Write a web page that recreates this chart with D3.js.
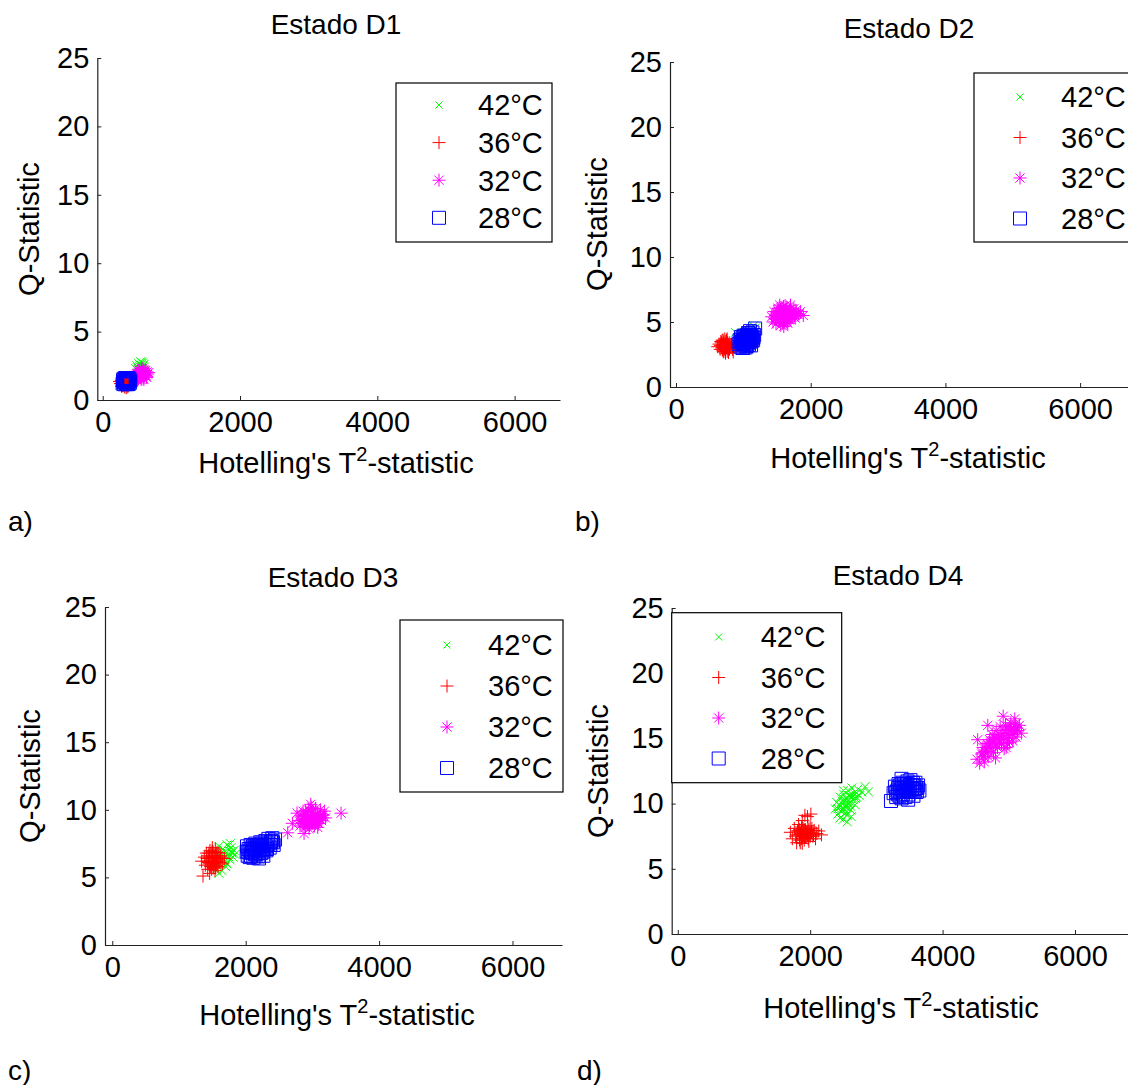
<!DOCTYPE html>
<html>
<head>
<meta charset="utf-8">
<script src="https://cdn.jsdelivr.net/npm/d3@7"></script>
<style>
  body { margin: 0; background: #fff; }
  text { font-family: "Liberation Sans", Arial, Helvetica, sans-serif; fill: #000; }
</style>
</head>
<body>
<svg id="fig" width="1128" height="1085"></svg>
<script>
// ---- series and axis definitions ----
const seriesNames = ["42°C", "36°C", "32°C", "28°C"];
const seriesColors = ["#00ff00", "#ff0000", "#ff00ff", "#0000ff"];
const seriesMarkers = ["x", "plus", "star", "square"];
const xTickValues = [0, 2000, 4000, 6000];
const yTickValues = [0, 5, 10, 15, 20, 25];
const panelTitles = ["Estado D1", "Estado D2", "Estado D3", "Estado D4"];
const panelLetters = ["a)", "b)", "c)", "d)"];

// ---- [T², Q] samples per state and temperature ----
const d1_42 = [[480,2.3],[495,2.5],[510,2.35],[525,2.65],[540,2.45],[550,2.8],[560,2.55],[570,2.35],[580,2.7],[590,2.5],[605,2.4],[520,2.2],[545,2.15],[565,2.75],[600,2.6]];
const d1_36 = [[245,1.35],[260,1.2],[270,1.45],[285,1.05],[295,1.3],[305,1.6],[315,0.95],[325,1.25],[335,1.4],[340,0.9],[350,1.15],[360,1.5],[370,1.0],[380,1.3],[395,1.45],[410,1.2],[300,1.1],[330,1.65],[355,0.95],[275,1.0]];
const d1_32 = [[460,1.55],[470,1.8],[485,1.5],[495,1.95],[505,1.7],[515,2.1],[520,1.55],[530,1.85],[540,2.15],[548,1.65],[555,1.95],[565,2.25],[572,1.75],[580,2.05],[590,1.6],[598,2.2],[605,1.85],[615,2.0],[625,2.15],[635,1.75],[645,2.05],[655,1.9],[670,2.0],[510,1.45],[560,1.5],[600,1.5],[575,2.3],[530,2.2],[640,1.65],[495,1.6]];
const d1_28 = [[290,1.2],[295,1.45],[300,1.3],[305,1.55],[312,1.15],[318,1.4],[325,1.6],[330,1.25],[335,1.45],[342,1.18],[348,1.35],[352,1.58],[358,1.22],[365,1.5],[370,1.3],[378,1.17],[383,1.42],[390,1.55],[395,1.25],[402,1.4],[310,1.35],[340,1.55],[375,1.6],[360,1.15]];

const d2_42 = [[880,4.2],[920,3.8],[960,4.0],[1000,3.6],[1030,4.1],[1060,3.8],[1090,4.3],[1120,4.0],[1150,4.7],[1180,4.55],[990,3.3],[1070,3.4]];
const d2_36 = [[620,3.1],[640,3.3],[655,2.9],[665,3.5],[680,3.0],[690,3.25],[700,2.75],[710,3.45],[720,3.1],[730,2.85],[740,3.35],[750,3.6],[760,2.95],[770,3.2],[780,2.65],[790,3.4],[805,3.05],[820,3.3],[840,2.9],[860,3.15],[880,3.4],[700,3.6],[735,2.6],[760,3.7],[690,2.85],[850,2.7],
  [660,3.2],[675,3.4],[690,3.05],[705,3.3],[720,2.95],[735,3.25],[750,3.05],[765,3.4],[780,3.1],[795,2.9],[710,2.7],[740,3.5],[685,3.6],[760,2.75],[725,3.7]];
const d2_32 = [[1420,5.4],[1440,5.0],[1455,5.8],[1470,5.25],[1485,4.85],[1500,5.6],[1515,6.05],[1525,5.15],[1540,5.5],[1555,4.75],[1565,5.9],[1580,5.3],[1595,6.2],[1605,5.0],[1620,5.7],[1635,5.35],[1645,6.1],[1660,4.9],[1675,5.55],[1690,5.95],[1705,5.2],[1720,5.75],[1735,5.45],[1750,6.0],[1770,5.3],[1790,5.65],[1890,5.5],[1600,4.65],[1540,6.3],[1700,6.3],[1480,5.5],[1650,5.0],
  [1480,5.3],[1495,5.7],[1510,5.35],[1525,5.8],[1540,5.2],[1555,5.55],[1570,5.85],[1585,5.45],[1600,5.6],[1615,5.25],[1630,5.9],[1645,5.5],[1660,5.75],[1675,5.2],[1690,5.45],[1705,5.8],[1720,5.4],[1740,5.65],[1760,5.5],[1780,5.9],[1820,5.6],[1850,5.8],[1560,6.1],[1620,6.25],[1580,4.9]];
const d2_28 = [[930,3.3],[945,3.6],[955,3.1],[965,3.85],[975,3.4],[985,3.0],[995,3.65],[1005,3.95],[1015,3.3],[1025,3.7],[1035,3.05],[1045,3.5],[1055,4.0],[1065,3.35],[1075,3.75],[1085,4.1],[1095,3.5],[1105,3.9],[1115,3.2],[1125,3.7],[1135,4.2],[1145,3.6],[1160,4.0],[1175,4.5],[1000,3.0],[1050,3.15],[1100,4.3],
  [980,3.5],[990,3.8],[1000,3.4],[1010,3.6],[1020,3.9],[1030,3.45],[1040,3.75],[1050,3.55],[1060,3.9],[1070,3.6],[1080,3.45],[1090,3.8],[1100,3.65],[1110,3.95],[1120,3.5],[1040,3.25],[1070,4.15],[960,3.45],[1010,3.2],[1130,3.85],[1150,3.8],[1085,3.25]];

const d3_42 = [[1520,6.2],[1545,6.9],[1560,5.6],[1580,6.5],[1600,7.3],[1615,6.0],[1630,6.8],[1645,5.5],[1660,7.1],[1675,6.4],[1690,6.9],[1705,6.1],[1720,7.4],[1735,6.7],[1750,7.0],[1765,6.3],[1780,7.2],[1795,6.8],[1810,6.5],[1825,7.0],[1600,5.3],[1700,5.8],
  [1750,6.5],[1790,6.9],[1840,6.7],[1770,7.5],[1720,6.0]];
const d3_36 = [[1340,6.2],[1360,5.1],[1380,6.5],[1395,5.9],[1410,6.8],[1420,6.2],[1430,5.6],[1445,6.6],[1455,6.0],[1465,7.0],[1475,5.8],[1485,6.4],[1495,6.9],[1505,6.1],[1515,5.7],[1525,6.5],[1535,6.2],[1545,7.1],[1555,5.9],[1565,6.6],[1575,6.3],[1585,5.8],[1600,6.8],[1615,6.1],[1630,6.5],[1650,6.0],[1680,6.4],[1460,5.3],[1540,5.5],[1500,7.2],
  [1420,6.4],[1440,6.1],[1460,6.5],[1480,6.2],[1500,6.6],[1520,6.0],[1540,6.4],[1560,6.1],[1580,6.5],[1600,6.2],[1450,6.8],[1510,6.9],[1570,6.85],[1490,5.6],[1550,5.7],[1620,6.6]];
const d3_32 = [[2630,8.3],[2700,9.0],[2770,9.75],[2975,10.4],[2875,8.25],[3430,9.75],[2800,9.2],[2815,8.8],[2830,9.6],[2845,9.0],[2860,9.9],[2880,9.3],[2895,8.7],[2910,9.6],[2925,9.1],[2940,10.0],[2955,8.9],[2970,9.4],[2985,9.8],[3000,9.0],[3015,9.5],[3030,8.8],[3045,10.1],[3060,9.3],[3075,9.7],[3090,9.0],[3105,9.5],[3120,10.0],[3140,9.2],[3160,9.6],[3180,9.9],[3195,9.4],[2950,8.6],[3080,8.7],
  [2830,9.2],[2860,9.5],[2890,9.0],[2920,9.3],[2950,9.6],[2980,9.2],[3010,9.3],[3040,9.6],[3070,9.1],[3100,9.3],[3130,9.6],[2900,9.9],[3000,9.8],[3050,9.0],[2960,9.0],[2870,9.1],[3150,9.4],[2990,10.2],[2920,8.9]];
const d3_28 = [[2015,6.9],[2020,7.3],[2030,6.6],[2045,7.1],[2060,6.5],[2075,7.4],[2090,6.8],[2100,7.2],[2115,6.45],[2130,7.0],[2145,7.5],[2160,6.7],[2175,7.2],[2190,6.55],[2205,7.0],[2220,7.6],[2235,6.8],[2250,7.3],[2265,6.6],[2280,7.1],[2295,7.7],[2310,7.0],[2325,7.4],[2340,7.85],[2360,7.2],[2380,7.6],[2400,7.9],[2420,7.4],[2440,7.8],[2200,6.4],
  [2040,6.9],[2070,7.0],[2100,6.9],[2130,7.2],[2160,7.0],[2190,7.3],[2220,7.1],[2250,7.0],[2280,7.4],[2310,7.3],[2340,7.5],[2370,7.4],[2080,6.6],[2140,6.7],[2200,6.8],[2260,6.9],[2320,7.1],[2390,7.7],[2240,7.5],[2170,7.4],[2110,7.3],[2410,7.6]];

const d4_42 = [[2380,9.6],[2400,10.1],[2420,9.2],[2440,9.9],[2455,10.5],[2470,9.4],[2485,10.2],[2500,8.8],[2510,10.7],[2525,9.8],[2540,10.4],[2555,9.1],[2570,11.0],[2585,10.0],[2600,10.6],[2615,9.5],[2630,11.2],[2645,10.3],[2660,10.8],[2680,9.9],[2700,10.5],[2720,11.1],[2745,10.6],[2780,10.9],[2830,11.3],[2880,10.9],[2560,8.6],[2450,8.9],[2620,9.0],[2500,11.0],
  [2450,9.8],[2480,10.0],[2510,9.6],[2540,10.0],[2570,10.3],[2600,10.1],[2630,10.5],[2480,9.5],[2520,10.3],[2560,9.7],[2590,10.6],[2650,10.6],[2420,9.6],[2540,9.3],[2610,9.8],[2680,10.4],[2700,10.8]];
const d4_36 = [[1700,7.8],[1730,7.3],[1760,8.1],[1780,7.5],[1795,7.0],[1810,7.9],[1825,8.4],[1840,7.2],[1855,7.7],[1870,8.2],[1880,6.95],[1895,7.6],[1910,8.0],[1920,9.1],[1935,7.4],[1950,7.85],[1965,8.3],[1980,7.1],[1995,7.7],[2010,9.2],[2025,8.1],[2040,7.5],[2060,7.95],[2080,7.3],[2100,7.7],[2130,7.9],[2170,7.6],[1880,8.7],[1960,9.0],[1850,7.0],
  [1800,7.6],[1820,7.9],[1840,7.6],[1860,7.9],[1880,7.5],[1900,7.8],[1920,7.4],[1940,7.7],[1960,7.6],[1980,8.0],[2000,7.5],[2020,7.8],[2050,7.6],[1890,8.1],[1930,8.0],[1870,7.3],[1970,7.3],[2000,8.2],[1840,8.0],[1910,7.2]];
const d4_32 = [[4520,13.4],[4530,14.9],[4560,13.1],[4590,13.8],[4610,14.3],[4630,13.2],[4650,14.0],[4670,14.6],[4683,16.0],[4690,13.6],[4710,14.9],[4730,14.2],[4750,15.3],[4770,13.9],[4790,14.7],[4810,15.6],[4830,14.3],[4850,15.1],[4870,15.9],[4890,14.6],[4910,15.4],[4915,16.7],[4930,14.2],[4950,16.0],[4970,15.0],[4990,15.7],[5010,14.7],[5030,16.2],[5050,15.3],[5070,15.8],[5090,16.5],[5110,15.1],[5130,15.6],[5160,16.0],[5190,15.4],[4800,13.5],[4960,14.3],[5060,14.8],
  [4600,13.9],[4640,14.3],[4680,14.0],[4720,14.6],[4760,14.8],[4800,14.5],[4840,15.0],[4880,15.2],[4920,14.9],[4960,15.4],[5000,15.2],[5040,15.7],[5080,15.5],[5120,15.8],[4700,14.4],[4780,15.1],[4860,14.7],[4940,15.6],[5020,15.9],[5100,16.1],[4620,13.6],[4980,14.6]];
const d4_28 = [[3220,10.2],[3260,10.8],[3280,11.3],[3300,10.5],[3320,11.0],[3335,11.5],[3350,10.6],[3365,11.1],[3380,10.4],[3395,11.6],[3410,10.9],[3425,11.3],[3440,10.5],[3455,11.0],[3470,11.7],[3485,10.7],[3500,11.2],[3515,11.8],[3530,10.9],[3545,11.4],[3560,10.6],[3575,11.1],[3590,11.6],[3610,10.9],[3630,11.4],[3650,11.0],[3480,10.3],[3380,11.9],
  [3300,10.9],[3330,11.2],[3360,10.9],[3390,11.2],[3420,11.0],[3450,11.3],[3480,11.0],[3510,11.4],[3540,11.1],[3570,11.4],[3600,11.2],[3330,10.7],[3420,11.5],[3500,10.9],[3580,10.9],[3620,11.2],[3460,11.5],[3400,10.7],[3550,11.6],[3360,11.4]];

const panelSeries = [
  [d1_42, d1_36, d1_32, d1_28],
  [d2_42, d2_36, d2_32, d2_28],
  [d3_42, d3_36, d3_32, d3_28],
  [d4_42, d4_36, d4_32, d4_28]
];

// ---- page layout of the four subplots ----
const layout = [
  { left: 97.3, right: 560, top: 58, bottom: 400, xMin: -79, xMax: 6661,
    titleX: 336, titleY: 34, xLabelX: 336, xLabelY: 473, yLabelX: 29, yLabelY: 229,
    letterX: 8, letterY: 531,
    legend: { x: 396, y: 83, w: 156, h: 159, mx: 439, tx: 478, row0: 105, step: 37.6 } },
  { left: 670, right: 1140, top: 62, bottom: 387, xMin: -89, xMax: 6889,
    titleX: 909, titleY: 38, xLabelX: 908, xLabelY: 468, yLabelX: 597, yLabelY: 224,
    letterX: 575, letterY: 531,
    legend: { x: 974, y: 73, w: 170, h: 169, mx: 1020, tx: 1061, row0: 97, step: 40.5 } },
  { left: 105, right: 562, top: 607, bottom: 945, xMin: -109, xMax: 6742,
    titleX: 333, titleY: 587, xLabelX: 337, xLabelY: 1025, yLabelX: 30, yLabelY: 776,
    letterX: 8, letterY: 1080,
    legend: { x: 400, y: 620, w: 163, h: 172, mx: 447, tx: 488, row0: 645, step: 41 } },
  { left: 671.7, right: 1140, top: 608, bottom: 934, xMin: -92, xMax: 6982,
    titleX: 898, titleY: 585, xLabelX: 901, xLabelY: 1018, yLabelX: 598, yLabelY: 771,
    letterX: 577, letterY: 1080,
    legend: { x: 671.7, y: 612.7, w: 170, h: 170, mx: 718.7, tx: 760.7, row0: 637, step: 40.5 } }
];

// ---- marker glyph paths (centred on 0,0) ----
function markerPath(type) {
  const h = 6.5, k = 4.6, s = 4.5;
  switch (type) {
    case "x": return `M${-s},${-s}L${s},${s}M${-s},${s}L${s},${-s}`;
    case "plus": return `M${-h},0H${h}M0,${-h}V${h}`;
    case "star": return `M${-h},0H${h}M0,${-h}V${h}M${-k},${-k}L${k},${k}M${-k},${k}L${k},${-k}`;
    case "square": return `M${-h},${-h}h${2*h}v${2*h}h${-2*h}Z`;
  }
}
function legendMarkerPath(type) {
  return type === "x" ? "M-3.5,-3.5L3.5,3.5M-3.5,3.5L3.5,-3.5" : markerPath(type);
}

const svg = d3.select("#fig");
const FONT = '"Liberation Sans", Arial, sans-serif';

layout.forEach((L, i) => {
  const g = svg.append("g");
  const x = d3.scaleLinear().domain([L.xMin, L.xMax]).range([L.left, L.right]);
  const y = d3.scaleLinear().domain([0, 25]).range([L.bottom, L.top]);

  // axes (left and bottom only, inward ticks)
  const yAxis = g.append("g").attr("transform", `translate(${L.left},0)`)
    .call(d3.axisLeft(y).tickValues(yTickValues).tickSize(-4).tickSizeOuter(0).tickPadding(8));
  const xAxis = g.append("g").attr("transform", `translate(0,${L.bottom})`)
    .call(d3.axisBottom(x).tickValues(xTickValues).tickSize(-4).tickSizeOuter(0).tickPadding(11)
      .tickFormat(d3.format("d")));
  [yAxis, xAxis].forEach(a => {
    a.select(".domain").attr("stroke", "#222").attr("stroke-width", 1.2);
    a.selectAll(".tick line").attr("stroke", "#222");
    a.selectAll(".tick text").attr("font-size", 29).attr("fill", "#000")
      .style("font-family", FONT);
  });

  // scatter clouds, drawn in legend order
  panelSeries[i].forEach((pts, s) => {
    g.append("g")
      .selectAll("path")
      .data(pts)
      .join("path")
      .attr("transform", d => `translate(${x(d[0])},${y(d[1])})`)
      .attr("d", markerPath(seriesMarkers[s]))
      .attr("fill", "none")
      .attr("stroke", seriesColors[s])
      .attr("stroke-width", 1);
  });

  // legend
  const lg = L.legend;
  const leg = g.append("g");
  leg.append("rect").attr("x", lg.x).attr("y", lg.y).attr("width", lg.w).attr("height", lg.h)
    .attr("fill", "#fff").attr("stroke", "#000").attr("stroke-width", 1.2);
  seriesNames.forEach((name, s) => {
    const ry = lg.row0 + s * lg.step;
    leg.append("path").attr("transform", `translate(${lg.mx},${ry})`)
      .attr("d", legendMarkerPath(seriesMarkers[s]))
      .attr("fill", "none").attr("stroke", seriesColors[s]).attr("stroke-width", 1);
    leg.append("text").attr("x", lg.tx).attr("y", ry).attr("dy", "0.36em")
      .attr("font-size", 29).text(name);
  });

  // titles and labels
  g.append("text").attr("x", L.titleX).attr("y", L.titleY).attr("text-anchor", "middle")
    .attr("font-size", 28).text(panelTitles[i]);
  const xl = g.append("text").attr("x", L.xLabelX).attr("y", L.xLabelY)
    .attr("text-anchor", "middle").attr("font-size", 29);
  xl.append("tspan").text("Hotelling's T");
  xl.append("tspan").attr("font-size", 20).attr("dy", -12).text("2");
  xl.append("tspan").attr("dy", 12).text("-statistic");
  g.append("text")
    .attr("transform", `translate(${L.yLabelX},${L.yLabelY}) rotate(-90)`)
    .attr("text-anchor", "middle").attr("dy", "0.36em").attr("font-size", 29)
    .text("Q-Statistic");
  g.append("text").attr("x", L.letterX).attr("y", L.letterY).attr("font-size", 28)
    .text(panelLetters[i]);
});
</script>
</body>
</html>
